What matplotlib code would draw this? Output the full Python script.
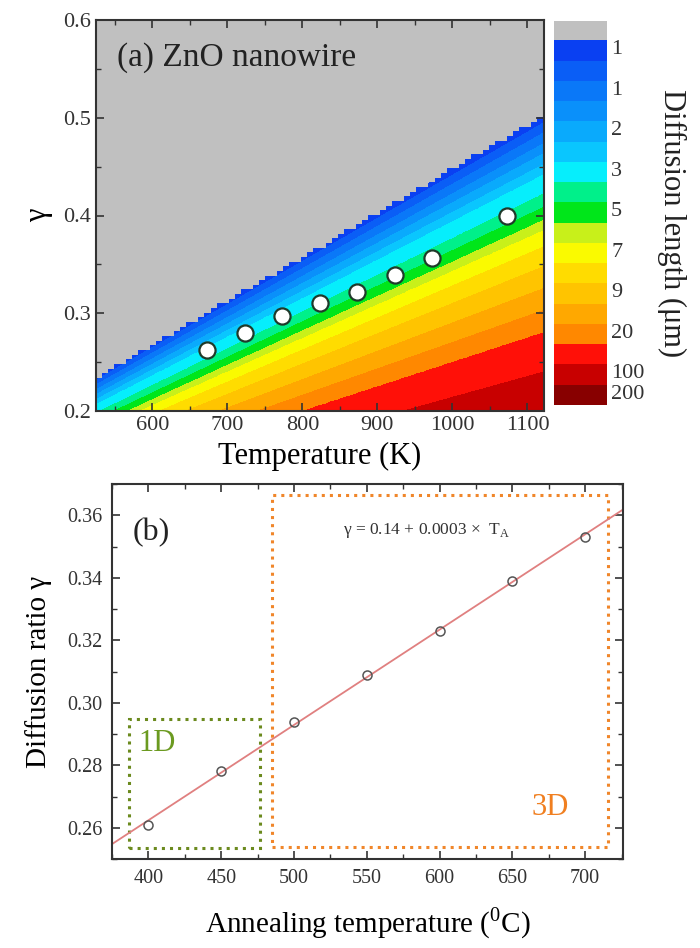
import numpy as np
import matplotlib.pyplot as plt
from matplotlib.colors import ListedColormap, BoundaryNorm
from matplotlib.patches import Rectangle
from matplotlib.ticker import MultipleLocator

plt.rcParams['font.family'] = ['Liberation Serif', 'DejaVu Serif']
plt.rcParams['axes.edgecolor'] = '#333333'
plt.rcParams['xtick.color'] = '#333333'
plt.rcParams['ytick.color'] = '#333333'

# --- (a) points on the diffusion map ---
temp_k = [673, 723, 773, 823, 873, 923, 973, 1073]
gamma_a = [0.262, 0.280, 0.297, 0.310, 0.322, 0.339, 0.357, 0.399]

# band edges of the map, read as 1000*gamma/T along the plot edges
edge_ratio = [0.451, 0.441, 0.432, 0.422, 0.413, 0.403, 0.394, 0.376, 0.364,
              0.352, 0.343, 0.328, 0.310, 0.290, 0.270, 0.250, 0.214, 0.170, 0.100]
band_colors = ['#0a40f2', '#0a5ef6', '#0a78f8', '#0a90fa', '#0aaafc', '#0ac6fe',
               '#06eefc', '#00f08a', '#00e61a', '#c8f01a', '#fafa00', '#ffdc00',
               '#ffc400', '#ffa800', '#ff8800', '#ff1008', '#c80000', '#880000']
cbar_pos = [0, 2, 4, 6, 8, 10, 12, 14, 16, 17]
cbar_labels = ['1', '1', '2', '3', '5', '7', '9', '20', '100', '200']

# --- (b) diffusion ratio vs annealing temperature ---
anneal_c = [400, 450, 500, 550, 600, 650, 700]
gamma_b = [0.261, 0.278, 0.294, 0.309, 0.323, 0.339, 0.353]

fig = plt.figure(figsize=(7, 9.48), dpi=100)

# ---------- panel (a) ----------
ax1 = fig.add_axes([96 / 700, 1 - 411 / 948, 448 / 700, 391 / 948])
ax1.set_facecolor('#c0c0c0')

tt = np.linspace(525, 1122, 75)
gg = np.linspace(0.2, 0.6, 85)
TT, GG = np.meshgrid(tt, gg)
ratio = 1000 * GG / TT
band = np.interp(-ratio, -np.array(edge_ratio), np.arange(len(edge_ratio)))
band = np.ma.masked_where(ratio > edge_ratio[0], band)

levels = np.arange(len(edge_ratio))
cmap = ListedColormap(band_colors)
cmap.set_under('#c0c0c0')
norm = BoundaryNorm(levels, cmap.N)
cs = ax1.contourf(TT, GG, band, levels=levels, cmap=cmap, norm=norm,
                  extend='min', corner_mask=False)

ax1.scatter(temp_k, gamma_a, s=135, facecolor='white', edgecolor='#1f3a2a',
            linewidth=1.6, zorder=5)

ax1.set_xlim(525, 1122)
ax1.set_ylim(0.2, 0.6)
ax1.xaxis.set_major_locator(MultipleLocator(100))
ax1.xaxis.set_minor_locator(MultipleLocator(50))
ax1.yaxis.set_major_locator(MultipleLocator(0.1))
ax1.yaxis.set_minor_locator(MultipleLocator(0.05))
ax1.tick_params(which='both', direction='in', top=True, right=True, labelsize=16)
ax1.tick_params(which='major', length=6, width=1.2)
ax1.tick_params(which='minor', length=3.5, width=1)
for s in ax1.spines.values():
    s.set_linewidth(1.5)
ax1.set_xlabel('Temperature (K)', fontsize=22, labelpad=5)
ax1.set_ylabel('γ', fontsize=22, labelpad=7)
ax1.text(0.047, 0.903, '(a) ZnO nanowire', transform=ax1.transAxes,
         fontsize=24, va='center', ha='left', color='#222222')

cax = fig.add_axes([554 / 700, 1 - 405 / 948, 53 / 700, 384 / 948])
cb = fig.colorbar(cs, cax=cax, extend='min', extendrect=True, extendfrac=0.053)
cax.invert_yaxis()
cb.set_ticks(cbar_pos, labels=cbar_labels)
cax.minorticks_off()
cb.outline.set_visible(False)
cax.tick_params(which='both', length=0, labelsize=16, pad=3)
for lbl in cax.get_yticklabels():
    lbl.set_va('top')
cb.set_label('Diffusion length (μm)', rotation=270, fontsize=22, labelpad=30,
             color='#222222')

# ---------- panel (b) ----------
ax2 = fig.add_axes([112 / 700, 1 - 859 / 948, 511 / 700, 375 / 948])
ax2.set_xlim(375, 726)
ax2.set_ylim(0.25, 0.37)

coef = np.polyfit(anneal_c, gamma_b, 1)
xs = np.array(ax2.get_xlim())
ax2.plot(xs, np.polyval(coef, xs), color='#e08080', lw=1.3, zorder=2)
ax2.plot(anneal_c, gamma_b, 'o', mfc='none', mec='#555555', ms=6.5, mew=1.1,
         zorder=3)

ax2.add_patch(Rectangle((387, 0.2536), 89.5, 0.0412, fill=False, ls=':',
                        lw=2.2, ec='#6b8a1e', zorder=1))
ax2.add_patch(Rectangle((485, 0.2539), 231, 0.1125, fill=False, ls=':',
                        lw=2.2, ec='#f0862a', zorder=1))
ax2.text(393, 0.287, '1D', fontsize=22, color='#6b9a20', va='center', ha='left')
ax2.text(676, 0.2664, '3D', fontsize=22, color='#f07f20', va='center', ha='center')
ax2.text(389, 0.3543, '(b)', fontsize=23, color='#222222', va='center', ha='left')
ax2.text(534, 0.3552, r'γ = 0.14 + 0.0003 ×  T$_\mathregular{A}$', fontsize=12.5,
         color='#333333', va='center', ha='left')

ax2.xaxis.set_major_locator(MultipleLocator(50))
ax2.xaxis.set_minor_locator(MultipleLocator(25))
ax2.yaxis.set_major_locator(MultipleLocator(0.02))
ax2.yaxis.set_minor_locator(MultipleLocator(0.01))
ax2.tick_params(which='both', direction='in', top=True, right=True, labelsize=14.5)
ax2.tick_params(which='major', length=6, width=1.2, pad=7)
ax2.tick_params(which='minor', length=3.5, width=1)
for s in ax2.spines.values():
    s.set_linewidth(1.5)
ax2.set_xlabel(r'Annealing temperature ($^\mathregular{0}$C)', fontsize=21,
               labelpad=13)
ax2.set_ylabel('Diffusion ratio γ', fontsize=21, labelpad=11)

fig.savefig('out.png', dpi=100, facecolor='white')
